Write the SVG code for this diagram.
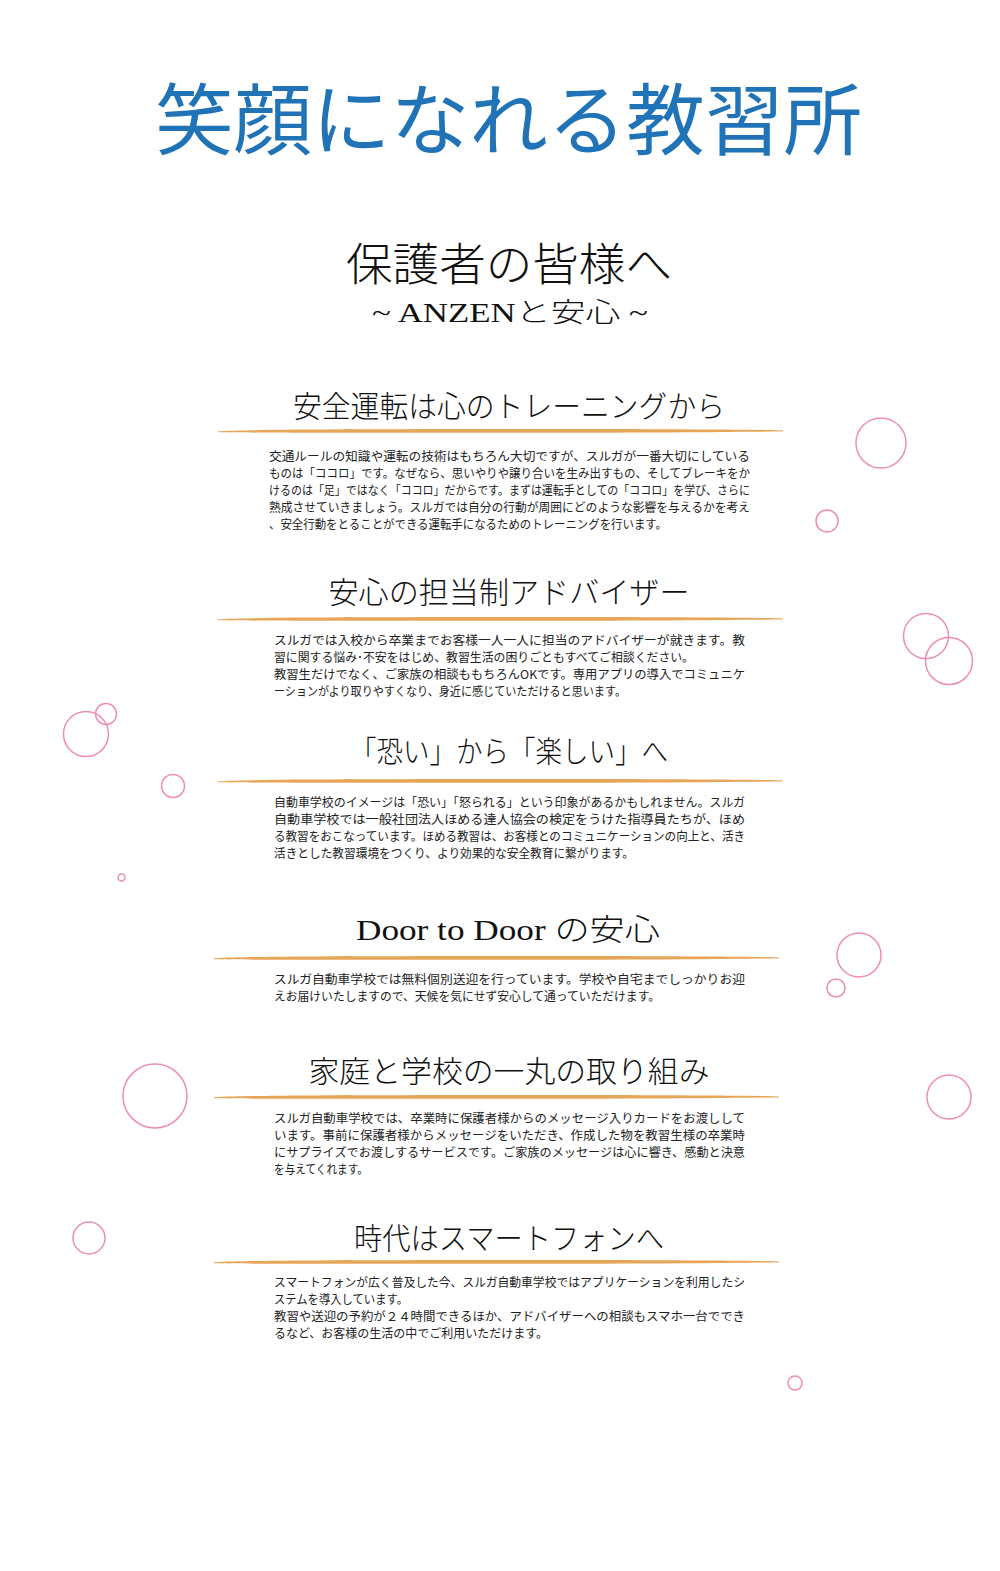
<svg xmlns="http://www.w3.org/2000/svg" xmlns:xlink="http://www.w3.org/1999/xlink" width="1000" height="1571" viewBox="0 0 1000 1571">
<style>
.title{font-family:"Noto Sans CJK JP","Noto Sans",sans-serif;font-weight:400;fill:#1f73b6;font-size:78px}
.h{font-family:"Noto Sans CJK JP",sans-serif;font-weight:300;fill:#111;font-size:30px;text-anchor:middle}
.hl{font-family:"Liberation Serif","Noto Sans CJK JP",serif;font-weight:400}
.b{font-family:"Noto Sans CJK JP",sans-serif;font-weight:400;fill:#222;font-size:12.3px}
.bub{fill:none;stroke:#f08cb8;stroke-width:1.5}
.brush{fill:#e6a658}
</style>
<defs>
<path id="brush" d="M0,0.2 C40,-1.6 120,-1.6 260,-1.9 C400,-2.2 480,-1.6 530,-1.2 L552,-0.9 L565,-0.5 L565,0.4 L552,0.6 L530,0.8 C480,1.4 400,1.9 260,1.8 C120,1.8 40,1.9 0,1.3 Z"/>
</defs>
<rect width="1000" height="1571" fill="#ffffff"/>

<g id="bubbles">
<circle class="bub" cx="881" cy="443" r="25"/>
<circle class="bub" cx="827" cy="521" r="11"/>
<circle class="bub" cx="926" cy="636" r="22.5"/>
<circle class="bub" cx="949" cy="661" r="23.5"/>
<circle class="bub" cx="86" cy="734" r="22.5"/>
<circle class="bub" cx="106" cy="714" r="10.5"/>
<circle class="bub" cx="173" cy="786" r="11.5"/>
<circle class="bub" cx="121.5" cy="877.5" r="3.5"/>
<circle class="bub" cx="859" cy="955" r="22"/>
<circle class="bub" cx="836" cy="988" r="9"/>
<circle class="bub" cx="155" cy="1096" r="32"/>
<circle class="bub" cx="949" cy="1097" r="22"/>
<circle class="bub" cx="89" cy="1238" r="16"/>
<circle class="bub" cx="795" cy="1383" r="7"/>
</g>

<g id="title">
<text class="title" x="155" y="149" textLength="707" lengthAdjust="spacingAndGlyphs">笑顔になれる教習所</text>
</g>

<g id="heading">
<text class="h" x="509" y="281" style="font-size:45px" textLength="326" lengthAdjust="spacingAndGlyphs">保護者の皆様へ</text>
<text class="h" x="510" y="322" style="font-size:27px" textLength="276" lengthAdjust="spacingAndGlyphs"><tspan class="hl">~ ANZEN</tspan>と安心<tspan class="hl"> ~</tspan></text>
</g>

<g id="section1">
<text class="h" x="509" y="417" textLength="432" lengthAdjust="spacingAndGlyphs">安全運転は心のトレーニングから</text>
<use xlink:href="#brush" class="brush" transform="translate(218,431)"/>
<text class="b" x="269" y="460.5" textLength="481" lengthAdjust="spacingAndGlyphs">交通ルールの知識や運転の技術はもちろん大切ですが、スルガが一番大切にしている</text>
<text class="b" x="269" y="477.5" textLength="481" lengthAdjust="spacingAndGlyphs">ものは「ココロ」です。なぜなら、思いやりや譲り合いを生み出すもの、そしてブレーキをか</text>
<text class="b" x="269" y="494.5" textLength="481" lengthAdjust="spacingAndGlyphs">けるのは「足」ではなく「ココロ」だからです。まずは運転手としての「ココロ」を学び、さらに</text>
<text class="b" x="269" y="511.5" textLength="481" lengthAdjust="spacingAndGlyphs">熟成させていきましょう。スルガでは自分の行動が周囲にどのような影響を与えるかを考え</text>
<text class="b" x="269" y="528.5" textLength="398" lengthAdjust="spacingAndGlyphs">、安全行動をとることができる運転手になるためのトレーニングを行います。</text>
</g>

<g id="section2">
<text class="h" x="509" y="603" textLength="361" lengthAdjust="spacingAndGlyphs">安心の担当制アドバイザー</text>
<use xlink:href="#brush" class="brush" transform="translate(218,619)"/>
<text class="b" x="274" y="644.5" textLength="471" lengthAdjust="spacingAndGlyphs">スルガでは入校から卒業までお客様一人一人に担当のアドバイザーが就きます。教</text>
<text class="b" x="274" y="661.5" textLength="420" lengthAdjust="spacingAndGlyphs">習に関する悩み･不安をはじめ、教習生活の困りごともすべてご相談ください。</text>
<text class="b" x="274" y="678.5" textLength="471" lengthAdjust="spacingAndGlyphs">教習生だけでなく、ご家族の相談ももちろんOKです。専用アプリの導入でコミュニケ</text>
<text class="b" x="274" y="695.5" textLength="352" lengthAdjust="spacingAndGlyphs">ーションがより取りやすくなり、身近に感じていただけると思います。</text>
</g>

<g id="section3">
<text class="h" x="509" y="762" textLength="318" lengthAdjust="spacingAndGlyphs">「恐い」から「楽しい」へ</text>
<use xlink:href="#brush" class="brush" transform="translate(218,781)"/>
<text class="b" x="274" y="806.5" textLength="471" lengthAdjust="spacingAndGlyphs">自動車学校のイメージは「恐い」「怒られる」という印象があるかもしれません。スルガ</text>
<text class="b" x="274" y="823.5" textLength="471" lengthAdjust="spacingAndGlyphs">自動車学校では一般社団法人ほめる達人協会の検定をうけた指導員たちが、ほめ</text>
<text class="b" x="274" y="840.5" textLength="471" lengthAdjust="spacingAndGlyphs">る教習をおこなっています。ほめる教習は、お客様とのコミュニケーションの向上と、活き</text>
<text class="b" x="274" y="857.5" textLength="360" lengthAdjust="spacingAndGlyphs">活きとした教習環境をつくり、より効果的な安全教育に繋がります。</text>
</g>

<g id="section4">
<text class="h" x="508" y="940" textLength="304" lengthAdjust="spacingAndGlyphs"><tspan class="hl">Door to Door </tspan>の安心</text>
<use xlink:href="#brush" class="brush" transform="translate(214,958)"/>
<text class="b" x="274" y="983.5" textLength="471" lengthAdjust="spacingAndGlyphs">スルガ自動車学校では無料個別送迎を行っています。学校や自宅までしっかりお迎</text>
<text class="b" x="274" y="1000.5" textLength="386" lengthAdjust="spacingAndGlyphs">えお届けいたしますので、天候を気にせず安心して通っていただけます。</text>
</g>

<g id="section5">
<text class="h" x="509" y="1082" textLength="401" lengthAdjust="spacingAndGlyphs">家庭と学校の一丸の取り組み</text>
<use xlink:href="#brush" class="brush" transform="translate(214,1097)"/>
<text class="b" x="274" y="1122.5" textLength="471" lengthAdjust="spacingAndGlyphs">スルガ自動車学校では、卒業時に保護者様からのメッセージ入りカードをお渡しして</text>
<text class="b" x="274" y="1139.5" textLength="471" lengthAdjust="spacingAndGlyphs">います。事前に保護者様からメッセージをいただき、作成した物を教習生様の卒業時</text>
<text class="b" x="274" y="1156.5" textLength="471" lengthAdjust="spacingAndGlyphs">にサプライズでお渡しするサービスです。ご家族のメッセージは心に響き、感動と決意</text>
<text class="b" x="274" y="1173.5" textLength="94" lengthAdjust="spacingAndGlyphs">を与えてくれます。</text>
</g>

<g id="section6">
<text class="h" x="509" y="1249" textLength="310" lengthAdjust="spacingAndGlyphs">時代はスマートフォンへ</text>
<use xlink:href="#brush" class="brush" transform="translate(214,1262)"/>
<text class="b" x="274" y="1286.5" textLength="471" lengthAdjust="spacingAndGlyphs">スマートフォンが広く普及した今、スルガ自動車学校ではアプリケーションを利用したシ</text>
<text class="b" x="274" y="1303.5" textLength="134" lengthAdjust="spacingAndGlyphs">ステムを導入しています。</text>
<text class="b" x="274" y="1320.5" textLength="471" lengthAdjust="spacingAndGlyphs">教習や送迎の予約が２４時間できるほか、アドバイザーへの相談もスマホ一台ででき</text>
<text class="b" x="274" y="1337.5" textLength="274" lengthAdjust="spacingAndGlyphs">るなど、お客様の生活の中でご利用いただけます。</text>
</g>
</svg>
